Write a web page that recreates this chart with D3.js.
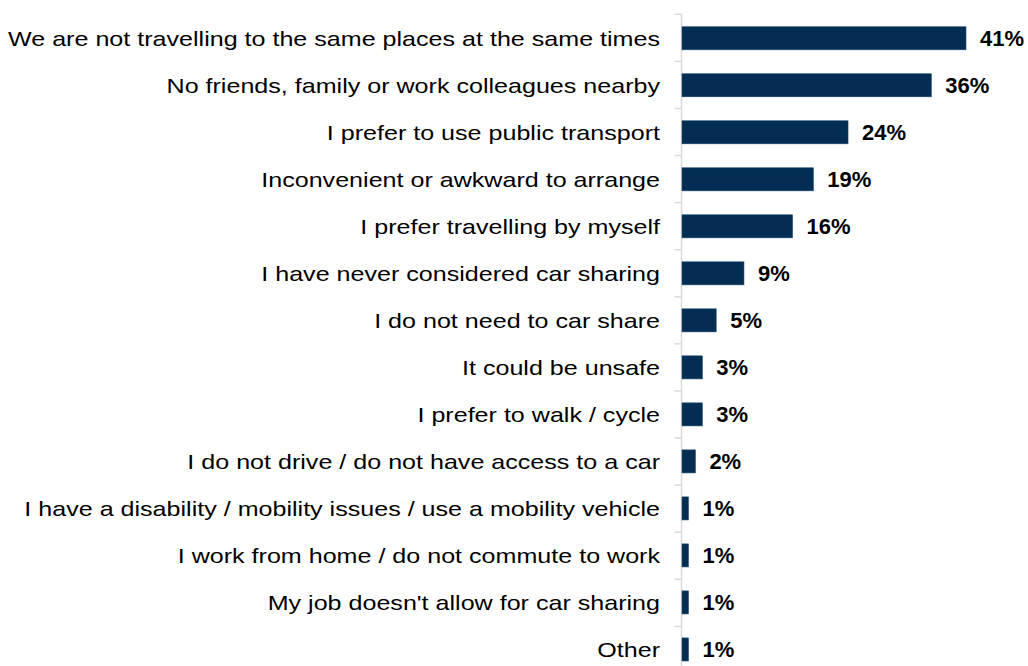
<!DOCTYPE html>
<html><head><meta charset="utf-8">
<script src="https://cdn.jsdelivr.net/npm/d3@7"></script>
<style>body{margin:0;background:#fff}svg{display:block}</style>
</head><body>
<svg id="chart" width="1028" height="666"></svg>
<script>
const categories = [
  "We are not travelling to the same places at the same times",
  "No friends, family or work colleagues nearby",
  "I prefer to use public transport",
  "Inconvenient or awkward to arrange",
  "I prefer travelling by myself",
  "I have never considered car sharing",
  "I do not need to car share",
  "It could be unsafe",
  "I prefer to walk / cycle",
  "I do not drive / do not have access to a car",
  "I have a disability / mobility issues / use a mobility vehicle",
  "I work from home / do not commute to work",
  "My job doesn't allow for car sharing",
  "Other"
];
const values = [41, 36, 24, 19, 16, 9, 5, 3, 3, 2, 1, 1, 1, 1];
const valueLabels = ["41%","36%","24%","19%","16%","9%","5%","3%","3%","2%","1%","1%","1%","1%"];

(function () {
const svg = d3.select("#chart");
const x0 = 681.5, yTop = 14.3, yBottom = 14.3 + 47.08 * categories.length;
const x = d3.scaleLinear().domain([0, 41]).range([x0, 966]);
const y = d3.scaleBand().domain(categories).range([yTop, yBottom]).paddingInner(0.51).paddingOuter(0.265);
const yEdges = d3.scaleLinear().domain([0, categories.length]).range([yTop, yBottom]);

const font = "'Liberation Sans', Arial, sans-serif";

svg.append("line").attr("x1", x0).attr("x2", x0).attr("y1", yTop).attr("y2", yBottom)
  .attr("stroke", "#d9d9d9").attr("stroke-width", 1.5);
svg.selectAll("line.tick").data(d3.range(categories.length + 1)).join("line")
  .attr("class", "tick")
  .attr("x1", x0 - 7).attr("x2", x0)
  .attr("y1", d => yEdges(d)).attr("y2", d => yEdges(d))
  .attr("stroke", "#d9d9d9").attr("stroke-width", 1.5);

svg.selectAll("rect.bar").data(values).join("rect")
  .attr("class", "bar")
  .attr("x", x0 + 0.5)
  .attr("y", (d, i) => y(categories[i]))
  .attr("width", d => x(d) - x0 - 0.5)
  .attr("height", y.bandwidth())
  .attr("fill", "#032d52")
  .attr("stroke", "#1a4a73").attr("stroke-width", 0.6);

svg.selectAll("text.cat").data(categories).join("text")
  .attr("class", "cat")
  .attr("transform", d => `translate(660,${y(d) + y.bandwidth() / 2}) scale(1.195,1)`)
  .attr("dy", "0.36em")
  .attr("text-anchor", "end")
  .attr("font-family", font)
  .attr("font-size", 21)
  .attr("fill", "#000")
  .text(d => d);

svg.selectAll("text.val").data(values).join("text")
  .attr("class", "val")
  .attr("x", d => x(d) + 14)
  .attr("y", (d, i) => y(categories[i]) + y.bandwidth() / 2)
  .attr("dy", "0.36em")
  .attr("font-family", font)
  .attr("font-size", 22)
  .attr("font-weight", "bold")
  .attr("fill", "#000")
  .text((d, i) => valueLabels[i]);
})();
</script>
</body></html>
